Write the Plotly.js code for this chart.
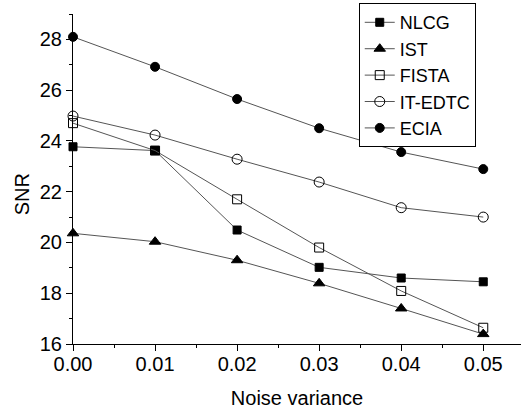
<!DOCTYPE html>
<html><head><meta charset="utf-8">
<script src="https://cdn.plot.ly/plotly-3.0.1.min.js"></script>
<style>html,body{margin:0;padding:0;background:#fff;}#chart{width:521px;height:412px;}</style>
</head><body><div id="chart"></div>
<script>
var noiseVariance = [0.00, 0.01, 0.02, 0.03, 0.04, 0.05];
var nlcg   = [23.77, 23.62, 20.49, 19.02, 18.60, 18.45];
var ist    = [20.36, 20.03, 19.30, 18.39, 17.40, 16.39];
var fista  = [24.70, 23.62, 21.70, 19.80, 18.09, 16.64];
var itedtc = [24.98, 24.23, 23.28, 22.38, 21.37, 21.00];
var ecia   = [28.10, 26.92, 25.65, 24.50, 23.56, 22.89];
var names = ['NLCG', 'IST', 'FISTA', 'IT-EDTC', 'ECIA'];
var seriesData = [nlcg, ist, fista, itedtc, ecia];
var symbols = ['square', 'triangle-up', 'square-open', 'circle-open', 'circle'];
var sizes = [8, 10, 9, 10, 9];

var traces = seriesData.map(function(d, i){
  return {
    x: noiseVariance, y: d, name: names[i], type: 'scatter', mode: 'lines+markers',
    line: {color: '#555', width: 1},
    marker: {symbol: symbols[i], size: sizes[i], color: '#000',
             line: {color: (i===2||i===3) ? '#444' : '#000', width: 1}},
    cliponaxis: false
  };
});

var layout = {
  width: 521, height: 412,
  margin: {l: 73, r: 0, t: 14, b: 68},
  paper_bgcolor: '#fff', plot_bgcolor: '#fff',
  font: {family: 'Liberation Sans, Arial, sans-serif', size: 20, color: '#000'},
  showlegend: true,
  legend: {x: 0.6378, y: 1.033, xanchor: 'left', yanchor: 'top',
           bordercolor: '#000', borderwidth: 1, bgcolor: '#fff',
           font: {size: 18}, tracegroupgap: 0, itemwidth: 30},
  xaxis: {
    range: [0, 0.0546], tickvals: noiseVariance, ticktext: ['0.00','0.01','0.02','0.03','0.04','0.05'],
    showgrid: false, zeroline: false, showline: true, linecolor: '#000', linewidth: 1,
    ticks: 'outside', ticklen: 6, tickwidth: 1, tickcolor: '#000', ticklabelstandoff: -4,
    minor: {dtick: 0.005, tick0: 0, ticks: 'outside', ticklen: 3, tickcolor: '#000', showgrid: false},
    title: {text: 'Noise variance', standoff: 16, font: {size: 20}},
    fixedrange: true
  },
  yaxis: {
    range: [16, 29], tickvals: [16,18,20,22,24,26,28],
    showgrid: false, zeroline: false, showline: true, linecolor: '#000', linewidth: 1,
    ticks: 'outside', ticklen: 6, tickwidth: 1, tickcolor: '#000',
    minor: {dtick: 1, tick0: 16, ticks: 'outside', ticklen: 3, tickcolor: '#000', showgrid: false},
    fixedrange: true
  },
  annotations: [{text: 'SNR', textangle: -90, xref: 'paper', yref: 'paper',
    x: -0.115, y: 0.455, xanchor: 'center', yanchor: 'middle', showarrow: false,
    font: {size: 20}}]
};
Plotly.newPlot('chart', traces, layout, {displayModeBar: false, staticPlot: true});
</script></body></html>
